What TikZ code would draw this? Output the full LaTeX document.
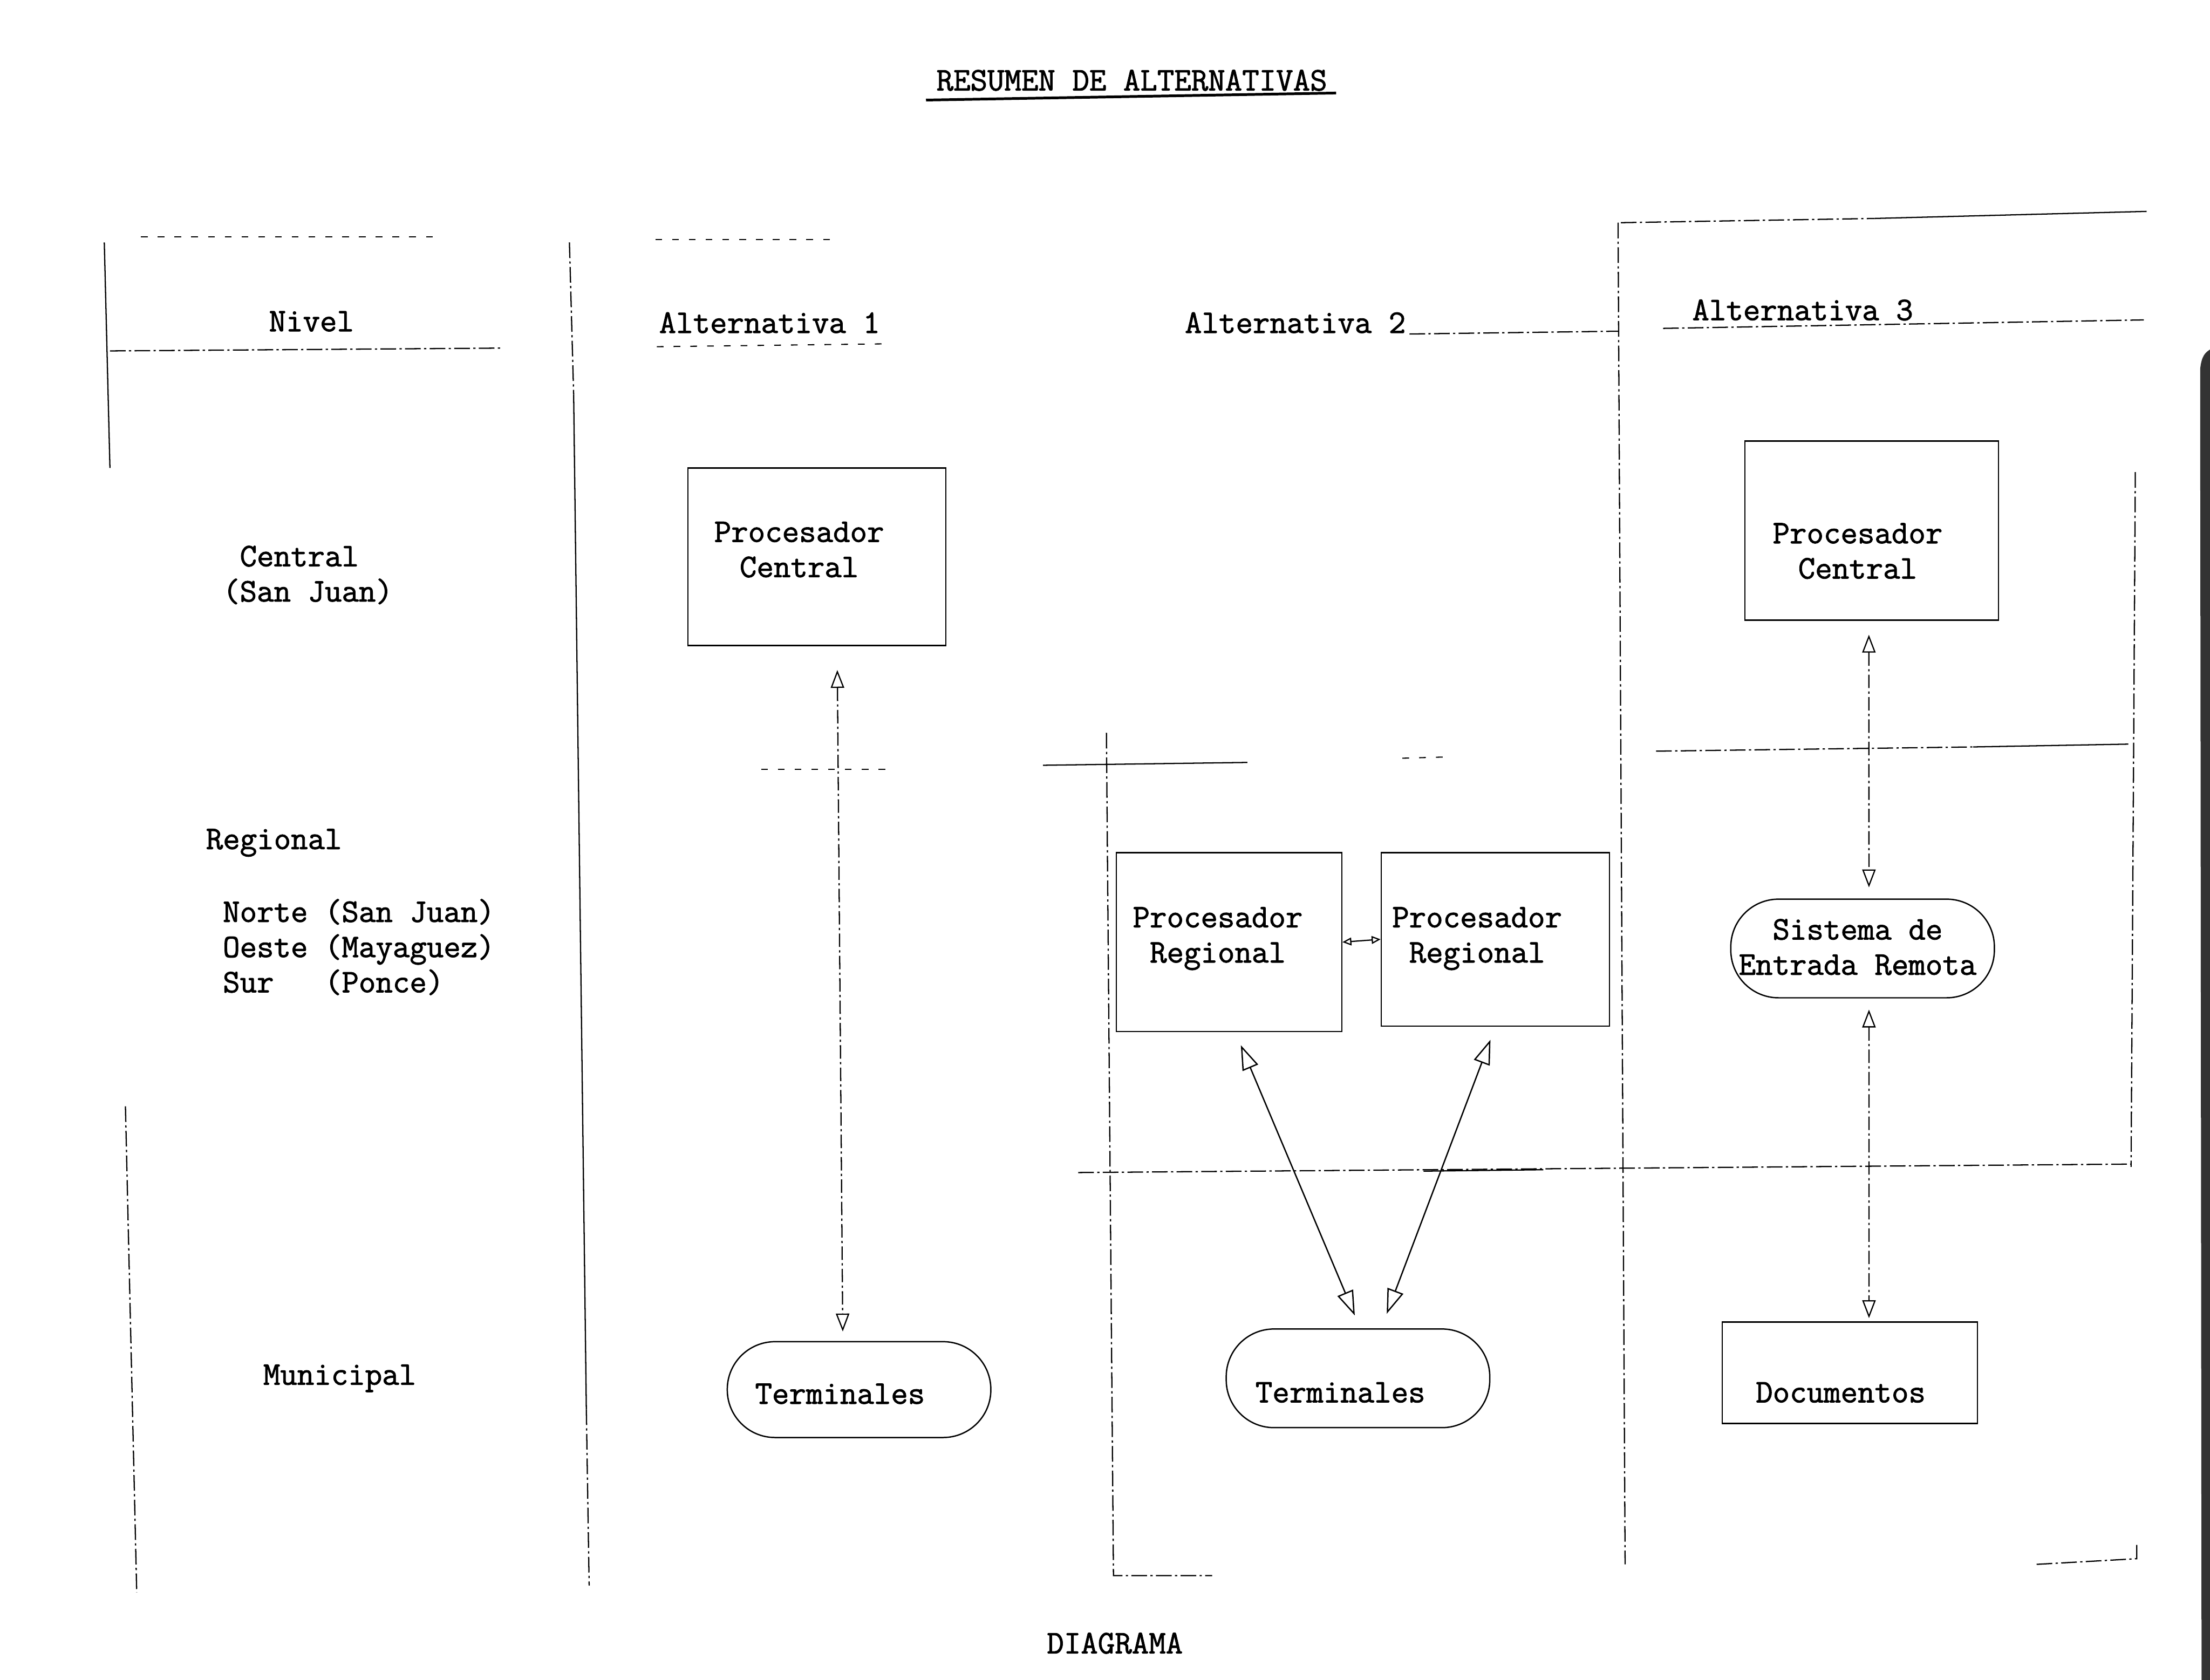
\documentclass[tikz,border=0pt]{standalone}
\usepackage{fontspec}
\setmonofont{Latin Modern Mono}[FakeBold=1.6]
\usetikzlibrary{arrows.meta}
\newcommand\uu{0.04431cm}
\newcommand\twfont{\fontsize{29.5}{31.5}\selectfont\ttfamily}
\begin{document}
\begin{tikzpicture}[x=0.04431cm, y=-0.04431cm, font=\twfont,
  gridl/.style={line width=1.1pt, dash pattern=on 14pt off 3pt on 2pt off 3pt},
  solidl/.style={line width=1.1pt},
  faint/.style={line width=1pt, dash pattern=on 6pt off 9pt},
  boxn/.style={draw, line width=1.2pt, inner sep=0pt},
  pill/.style={draw, line width=1.2pt, rounded corners=1.5cm, inner sep=0pt},
  txt/.style={inner sep=0pt, align=center},
  ltxt/.style={inner sep=0pt, align=left, anchor=west},
  link/.style={line width=1.1pt, dash pattern=on 12pt off 3pt on 2pt off 3pt,
    {Triangle[open,length=16pt,width=12pt]}-{Triangle[open,length=16pt,width=12pt]}},
  link2/.style={line width=1.2pt,
    {Triangle[open,length=22pt,width=15pt]}-{Triangle[open,length=22pt,width=15pt]}}]

\fill[white] (0,0) rectangle (1568,1192);
\useasboundingbox (0,0) rectangle (1568,1192);

% page edge shadow
\fill[black!80] (1561,262) .. controls (1562,252) and (1565,250) .. (1568,248) -- (1568,1192) -- (1562,1192) -- cycle;

% title
\node (title) at (803,57) {RESUMEN DE ALTERNATIVAS};
\draw[line width=2.4pt] (657,71) -- (948,66);

% table frame
\draw[solidl] (74,172) -- (78,332);
\draw[gridl] (89,785) -- (97,1130);
\draw[faint] (100,168) -- (310,168);
\draw[faint] (465,170) -- (590,170);
\draw[gridl] (78,249) -- (355,247);
\draw[gridl] (404,172) -- (407,280);
\draw[solidl] (407,280) -- (416,1000);
\draw[gridl] (416,1000) -- (418,1125);
\draw[faint] (466,246) -- (626,244);
\draw[gridl] (1000,237) -- (1148,235);
\draw[gridl] (1180,233) -- (1521,227);
\draw[gridl] (1148,158) -- (1153,1110);
\draw[gridl] (1150,158) -- (1330,155);
\draw[solidl] (1330,155) -- (1523,150);
\draw[gridl] (1515,335) -- (1512,828);
% row separators
\draw[faint] (540,546) -- (632,546);
\draw[solidl] (740,543) -- (885,541);
\draw[faint] (995,538) -- (1030,537);
\draw[gridl] (1175,533) -- (1400,530);
\draw[solidl] (1400,530) -- (1510,528);
\draw[gridl] (765,832) -- (1512,826);
\draw[solidl] (1010,831) -- (1095,830);
% column between alternative 1 and 2
\draw[gridl] (785,520) -- (790,1118) -- (860,1118);
% bottom right corner
\draw[gridl] (1445,1110) -- (1516,1106) -- (1516,1094);

% headings
\node (hniv) at (221,228) {Nivel};
\node (halt1) at (546,229) {Alternativa 1};
\node (halt2) at (919,229) {Alternativa 2};
\node (halt3) at (1279,220) {Alternativa 3};

% level labels
\node[ltxt] (lcen) at (158,408) {\ Central\\(San Juan)};
\node[ltxt] (lreg) at (146,598) {Regional};
\node[ltxt] (lregs) at (158,672) {Norte (San Juan)\\Oeste (Mayaguez)\\Sur\ \ \ (Ponce)};
\node (lmun) at (241,978) {Municipal};

% Alternativa 1
\node[boxn, minimum width=183*\uu, minimum height=126*\uu] (pc1) at (579.5,395) {};
\node[txt] (pc1t) at (567,390) {Procesador\\Central};
\node[pill, minimum width=187*\uu, minimum height=68*\uu] (term1) at (609.5,986) {};
\node[txt] (term1t) at (596,989) {Terminales};
\draw[link, shorten <=0.75cm, shorten >=0.3cm] ([xshift=0.64cm]pc1.south) -- ([xshift=-0.51cm]term1.north);

% Alternativa 2
\node[boxn, minimum width=160*\uu, minimum height=127*\uu] (reg1) at (872,668.5) {};
\node[txt] (reg1t) at (864,666) {Procesador\\Regional};
\node[boxn, minimum width=162*\uu, minimum height=123*\uu] (reg2) at (1061,666.5) {};
\node[txt] (reg2t) at (1048,666) {Procesador\\Regional};
\node[pill, minimum width=187*\uu, minimum height=70*\uu] (term2) at (963.5,978) {};
\node[txt] (term2t) at (951,988) {Terminales};
\draw[line width=1.1pt, {Triangle[open,length=8pt,width=7pt]}-{Triangle[open,length=8pt,width=7pt]}] (reg1.east) -- (reg2.west);
\draw[link2, shorten <=0.44cm, shorten >=0.44cm] ([xshift=0.2cm]reg1.south) -- ([xshift=0.07cm]term2.north);
\draw[link2, shorten <=0.44cm, shorten >=0.49cm] (reg2.south) -- ([xshift=0.73cm]term2.north);

% Alternativa 3
\node[boxn, minimum width=180*\uu, minimum height=127*\uu] (pc3) at (1328,376.5) {};
\node[txt] (pc3t) at (1318,391) {Procesador\\Central};
\node[pill, minimum width=187*\uu, minimum height=70*\uu] (sis) at (1321.5,673) {};
\node[txt] (sist) at (1318,672) {Sistema de\\Entrada Remota};
\node[boxn, minimum width=181*\uu, minimum height=72*\uu] (doc) at (1312.5,974) {};
\node[txt] (doct) at (1306,988) {Documentos};
\draw[link, shorten <=0.44cm, shorten >=0.35cm] ([xshift=-0.09cm]pc3.south) -- ([xshift=0.2cm]sis.north);
\draw[link, shorten <=0.35cm, shorten >=0.1cm] ([xshift=0.2cm]sis.south) -- ([xshift=0.6cm]doc.north);

% caption
\node (cap) at (791,1166) {DIAGRAMA};
\end{tikzpicture}
\end{document}
